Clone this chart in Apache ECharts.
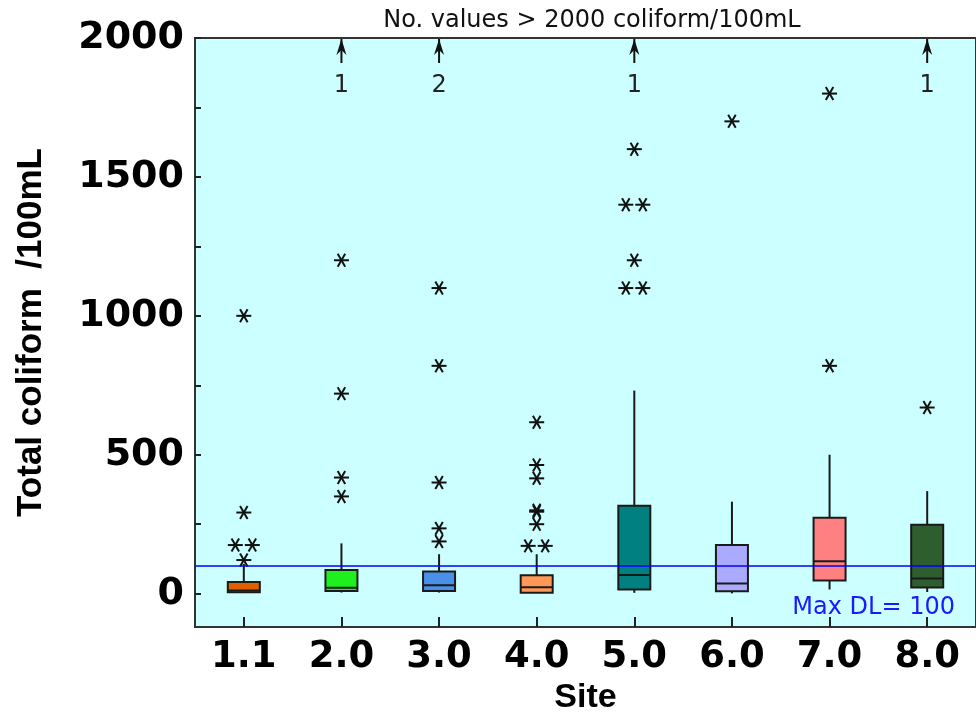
<!DOCTYPE html>
<html>
<head>
<meta charset="utf-8">
<script src="https://cdn.jsdelivr.net/npm/echarts@6/dist/echarts.min.js"></script>
<style>
  html, body { margin: 0; padding: 0; background: #fff; }
  #chart { width: 976px; height: 721px; }
</style>
</head>
<body>
<div id="chart"></div>
<script>
// Sampling sites along the x axis
const sites = ['1.1', '2.0', '3.0', '4.0', '5.0', '6.0', '7.0', '8.0'];

// Box statistics per site (total coliform /100mL)
const boxMin    = [3,   4,   4,   3,   3,   1,   15,  6];
const boxQ1     = [5,   10,  10,  3,   15,  9,   47,  22];
const boxMedian = [11,  21,  30,  23,  67,  37,  117, 55];
const boxQ3     = [42,  85,  80,  66,  316, 175, 273, 248];
const boxMax    = [107, 181, 142, 142, 731, 331, 500, 369];

// Outliers per site (values up to 2000)
const outlierValues = [
  [121, 175, 175, 292, 1000],
  [350, 418, 720, 1200],
  [188, 235, 400, 820, 1100],
  [172, 172, 250, 295, 300, 415, 463, 617],
  [1100, 1100, 1200, 1400, 1400, 1600],
  [1700],
  [820, 1800],
  [670]
];

// Number of samples above the plotted range, per site
const countsAbove = [0, 1, 2, 0, 1, 0, 0, 1];
const plotCeiling = 2000;

// Maximum detection limit
const maxDL = 100;

// Axis ticks
const yLabelValues = [0, 500, 1000, 1500, 2000];
const yTickValues = [0, 250, 500, 750, 1000, 1250, 1500, 1750, 2000];

// Box fill colours, one per site
const boxColors = ['#e06000', '#1ef01e', '#4a90e8', '#ff9955', '#008080', '#aaaaff', '#ff8080', '#2e5e2e'];

const boxData = sites.map((s, i) => [i, boxMin[i], boxQ1[i], boxMedian[i], boxQ3[i], boxMax[i]]);

// Tied outliers are spread side by side
const outlierData = [];
outlierValues.forEach((vals, i) => {
  const counts = {};
  vals.forEach(v => { counts[v] = (counts[v] || 0) + 1; });
  const seen = {};
  vals.forEach(v => {
    const k = seen[v] || 0;
    seen[v] = k + 1;
    outlierData.push([i, v, k, counts[v]]);
  });
});

const arrowData = [];
countsAbove.forEach((n, i) => { if (n > 0) arrowData.push([i, plotCeiling, n]); });

const INK = '#1a1a1a';

function renderBox(params, api) {
  const i = api.value(0);
  const x = api.coord([i, 0])[0];
  const yMin = api.coord([i, api.value(1)])[1];
  const yQ1 = api.coord([i, api.value(2)])[1];
  const yMed = api.coord([i, api.value(3)])[1];
  const yQ3 = api.coord([i, api.value(4)])[1];
  const yMax = api.coord([i, api.value(5)])[1];
  const w = 32;
  const line = (x1, y1, x2, y2) => ({
    type: 'line', shape: { x1, y1, x2, y2 }, style: { stroke: INK, lineWidth: 2 }
  });
  return {
    type: 'group',
    children: [
      line(x, yMax, x, yQ3),
      line(x, yQ1, x, yMin),
      {
        type: 'rect',
        shape: { x: x - w / 2, y: yQ3, width: w, height: yQ1 - yQ3 },
        style: { fill: boxColors[i], stroke: INK, lineWidth: 2 }
      },
      line(x - w / 2, yMed, x + w / 2, yMed)
    ]
  };
}

function renderOutlier(params, api) {
  const i = api.value(0);
  const k = api.value(2);
  const n = api.value(3);
  const p = api.coord([i, api.value(1)]);
  const cx = p[0] + (k - (n - 1) / 2) * 17;
  const cy = p[1];
  const r = 7.5;
  const dx = r * 0.5, dy = r * 0.866;
  const st = { stroke: '#111', lineWidth: 2 };
  return {
    type: 'group',
    children: [
      { type: 'line', shape: { x1: cx - r, y1: cy, x2: cx + r, y2: cy }, style: st },
      { type: 'line', shape: { x1: cx - dx, y1: cy - dy, x2: cx + dx, y2: cy + dy }, style: st },
      { type: 'line', shape: { x1: cx + dx, y1: cy - dy, x2: cx - dx, y2: cy + dy }, style: st }
    ]
  };
}

function renderArrow(params, api) {
  const i = api.value(0);
  const p = api.coord([i, api.value(1)]);
  const x = p[0], y = p[1] + 1;
  return {
    type: 'group',
    children: [
      { type: 'line', shape: { x1: x, y1: y, x2: x, y2: y + 24 }, style: { stroke: '#111', lineWidth: 2 } },
      {
        type: 'polygon',
        shape: { points: [[x, y], [x - 5, y + 16], [x, y + 11], [x + 5, y + 16]] },
        style: { fill: '#111' }
      },
      {
        type: 'text',
        style: {
          x: x, y: y + 47, text: String(api.value(2)),
          font: '24px "DejaVu Sans"', fill: '#222', align: 'center', verticalAlign: 'middle'
        }
      }
    ]
  };
}

const chart = echarts.init(document.getElementById('chart'), null, { renderer: 'canvas' });

chart.setOption({
  backgroundColor: '#ffffff',
  animation: false,
  title: {
    text: 'No. values > 2000 coliform/100mL',
    left: 587,
    top: 4,
    textAlign: 'center',
    textStyle: { fontFamily: 'DejaVu Sans', fontSize: 24, fontWeight: 'normal', color: '#111' }
  },
  grid: {
    left: 195, top: 38, width: 784, height: 589,
    show: true, backgroundColor: '#ccffff', borderColor: '#333', borderWidth: 2,
    containLabel: false
  },
  xAxis: {
    type: 'category',
    data: sites,
    boundaryGap: true,
    axisLine: { show: true, onZero: false, lineStyle: { color: '#333', width: 2 } },
    axisTick: { show: true, inside: true, alignWithLabel: true, length: 10, lineStyle: { color: '#222', width: 2 } },
    axisLabel: { fontFamily: 'DejaVu Sans', fontWeight: 'bold', fontSize: 37, color: '#000', margin: 12 },
    splitLine: { show: false },
    name: 'Site',
    nameLocation: 'middle',
    nameGap: 53,
    nameTextStyle: { fontFamily: 'Liberation Sans', fontWeight: 'bold', fontSize: 34, color: '#000' }
  },
  yAxis: {
    type: 'value',
    min: -120,
    max: 2000,
    axisLine: { show: true, onZero: false, lineStyle: { color: '#333', width: 2 } },
    axisTick: { show: true, inside: true, length: 6, customValues: yTickValues, lineStyle: { color: '#222', width: 2 } },
    axisLabel: {
      customValues: yLabelValues,
      formatter: v => String(v),
      fontFamily: 'DejaVu Sans', fontWeight: 'bold', fontSize: 38, color: '#000', margin: 11
    },
    splitLine: { show: false },
    name: 'Total coliform  /100mL',
    nameLocation: 'middle',
    nameGap: 146,
    nameTextStyle: { fontFamily: 'Liberation Sans', fontWeight: 'bold', fontSize: 35, color: '#000' }
  },
  series: [
    {
      type: 'custom',
      name: 'boxes',
      data: boxData,
      encode: { x: 0, y: [1, 2, 3, 4, 5] },
      renderItem: renderBox,
      z: 3,
      markLine: {
        silent: true,
        symbol: 'none',
        data: [{ yAxis: maxDL }],
        lineStyle: { color: '#0000ff', width: 1.5, type: 'solid' },
        label: {
          show: true,
          position: 'insideEndBottom',
          formatter: 'Max DL= ' + maxDL,
          color: '#1a1aff',
          fontFamily: 'DejaVu Sans',
          fontSize: 24,
          distance: [21, 30]
        }
      }
    },
    {
      type: 'custom',
      name: 'outliers',
      data: outlierData,
      encode: { x: 0, y: 1 },
      renderItem: renderOutlier,
      z: 4
    },
    {
      type: 'custom',
      name: 'above range',
      data: arrowData,
      encode: { x: 0, y: 1 },
      renderItem: renderArrow,
      clip: false,
      z: 4
    }
  ]
});
</script>
</body>
</html>
